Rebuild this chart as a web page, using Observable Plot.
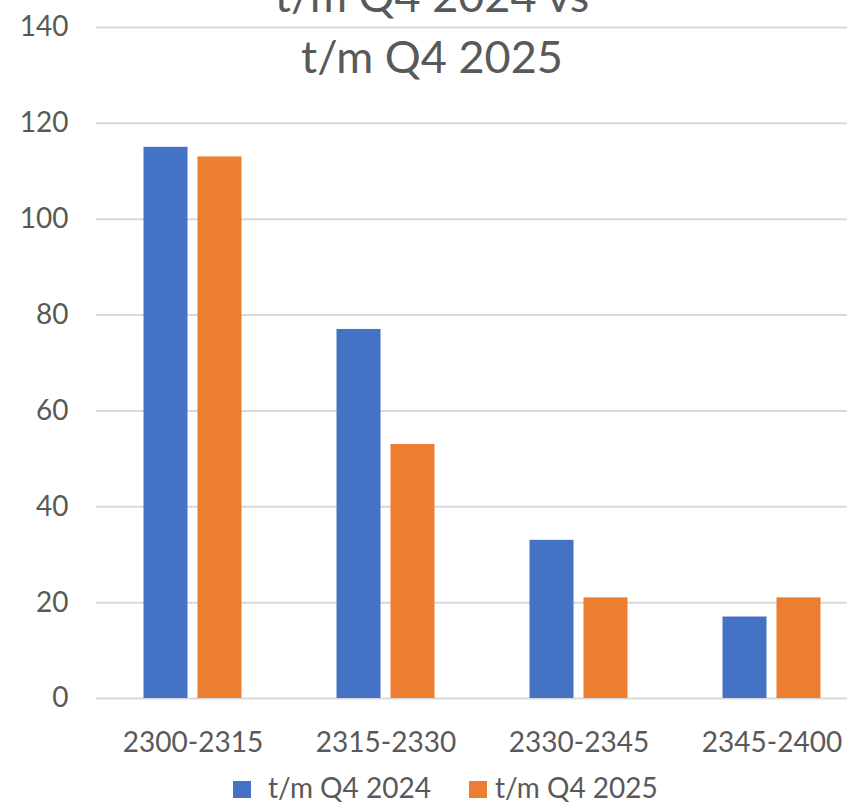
<!DOCTYPE html>
<html>
<head>
<meta charset="utf-8">
<script src="https://cdn.jsdelivr.net/npm/d3@7"></script>
<script src="https://cdn.jsdelivr.net/npm/@observablehq/plot@0.6"></script>
<style>
  html, body { margin: 0; padding: 0; background: #fff; overflow: hidden; }
  #wrap { position: relative; width: 847px; height: 805px; overflow: hidden; font-family: Lato, "Open Sans", sans-serif; color: #595959; }
  #title { position: absolute; top: -35px; left: 0; width: 864px; text-align: center; font-size: 45px; line-height: 61px; color: #595959; }
  #legend { height: 45px; padding-top: 5px; box-sizing: border-box; padding-left: 233px; font-size: 28px; line-height: 45px; white-space: nowrap; color: #595959; }
  .sw { display: inline-block; width: 18px; height: 17px; vertical-align: baseline; }
</style>
</head>
<body>
<div id="wrap">
  <div id="chart"></div>
  <div id="legend"></div>
  <div id="title">t/m Q4 2024 vs<br>t/m Q4 2025</div>
</div>
<script>
const categories = ["2300-2315", "2315-2330", "2330-2345", "2345-2400"];
const series = ["t/m Q4 2024", "t/m Q4 2025"];
const values2024 = [115, 77, 33, 17];
const values2025 = [113, 53, 21, 21];
const yTicks = [0, 20, 40, 60, 80, 100, 120, 140];
const colors = ["#4472C4", "#ED7D31"];

const data = [];
categories.forEach((c, i) => {
  data.push({category: c, series: series[0], value: values2024[i]});
  data.push({category: c, series: series[1], value: values2025[i]});
});

const chart = Plot.plot({
  width: 870,
  height: 760,
  marginLeft: 96,
  marginRight: 2,
  marginTop: 27,
  marginBottom: 62,
  style: {fontFamily: "Lato, 'Open Sans', sans-serif", fontSize: "28px", color: "#595959", background: "#fff", maxWidth: "none", overflow: "visible"},
  fx: {domain: categories, padding: 0, round: false},
  x: {domain: series, paddingInner: 0.185, paddingOuter: 0.88, round: false, axis: null},
  y: {domain: [0, 140], round: false},
  color: {domain: series, range: colors},
  marks: [
    Plot.gridY(yTicks, {stroke: "#d9d9d9", strokeOpacity: 1, strokeWidth: 2}),
    Plot.barY(data, {fx: "category", x: "series", y: "value", fill: "series"}),
    Plot.axisY(yTicks, {tickSize: 0, tickPadding: 28, label: null, fontSize: 28}),
    Plot.axisFx({anchor: "bottom", tickSize: 0, tickPadding: 34, label: null, fontSize: 28})
  ]
});
document.getElementById("chart").appendChild(chart);

const legend = document.getElementById("legend");
series.forEach((s, i) => {
  const sw = document.createElement("span");
  sw.className = "sw";
  sw.style.background = colors[i];
  sw.style.marginRight = i === 0 ? "17px" : "8px";
  legend.appendChild(sw);
  const t = document.createElement("span");
  t.textContent = s;
  t.style.marginRight = i === 0 ? "38px" : "0px";
  legend.appendChild(t);
});
</script>
</body>
</html>
